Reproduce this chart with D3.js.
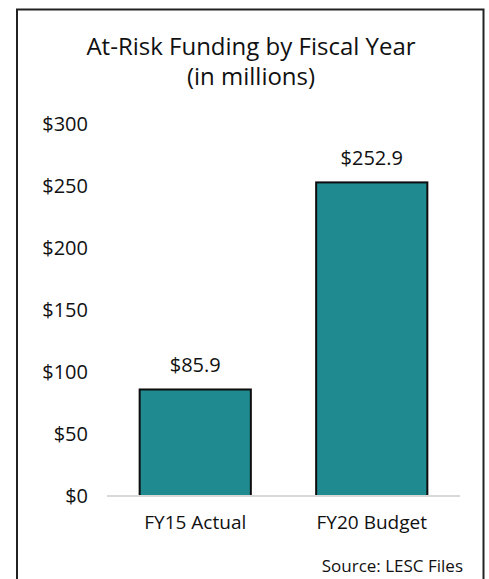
<!DOCTYPE html>
<html>
<head>
<meta charset="utf-8">
<script src="https://cdn.jsdelivr.net/npm/d3@7"></script>
<style>
  body { margin: 0; background: #fff; }
  svg text { font-family: "Open Sans", sans-serif; fill: #111; }
</style>
</head>
<body>
<div id="content"></div>
<script>
// chart data
const categories = ['FY15 Actual', 'FY20 Budget'];
const values = [85.9, 252.9];
const yTicks = [0, 50, 100, 150, 200, 250, 300];
const titleLines = ['At-Risk Funding by Fiscal Year', '(in millions)'];
const source = 'Source: LESC Files';

var app = {};
app.W = 489;
app.H = 579;
var margin = { top: 124, right: 29, bottom: 83, left: 107 };
app.width = app.W - margin.left - margin.right;
app.height = app.H - margin.top - margin.bottom;

app.svg = d3.select('#content').append('svg')
  .attr('width', app.W)
  .attr('height', app.H);

// frame around the chart
app.svg.append('rect')
  .attr('x', 17).attr('y', 9.5)
  .attr('width', 466.5).attr('height', 600)
  .attr('fill', 'none')
  .attr('stroke', '#222')
  .attr('stroke-width', 2);

app.svg.selectAll('.title')
  .data(titleLines)
  .enter().append('text')
  .attr('class', 'title')
  .attr('x', 251)
  .attr('y', (d, i) => 55 + i * 30)
  .attr('text-anchor', 'middle')
  .style('font-size', '24px')
  .style('font-weight', 500)
  .text(d => d);

app.g = app.svg.append('g')
  .attr('transform', `translate(${margin.left},${margin.top})`);

app.yScale = d3.scaleLinear()
  .domain([0, 300])
  .range([app.height, 0]);

app.xScale = d3.scaleBand()
  .domain(categories)
  .range([0, app.width])
  .paddingInner(0.37)
  .paddingOuter(0.185);

// y axis labels (no line)
app.yAxis = d3.axisLeft(app.yScale)
  .tickValues(yTicks)
  .tickSize(0)
  .tickPadding(19)
  .tickFormat(d => '$' + d);

app.g.append('g')
  .call(app.yAxis)
  .call(g => g.select('.domain').remove())
  .selectAll('text')
  .style('font-size', '20px')
  .attr('fill', '#111');

app.g.selectAll('rect.bar')
  .data(values)
  .enter().append('rect')
  .attr('class', 'bar')
  .attr('x', (d, i) => app.xScale(categories[i]))
  .attr('y', d => app.yScale(d))
  .attr('width', app.xScale.bandwidth())
  .attr('height', d => app.height - app.yScale(d))
  .attr('fill', '#1f8a90')
  .attr('stroke', '#0d0d0d')
  .attr('stroke-width', 2);

// baseline
app.g.append('line')
  .attr('x1', 0).attr('x2', app.width)
  .attr('y1', app.yScale(0)).attr('y2', app.yScale(0))
  .attr('stroke', '#d9d9d9')
  .attr('stroke-width', 2);

app.g.selectAll('text.val')
  .data(values)
  .enter().append('text')
  .attr('class', 'val')
  .attr('x', (d, i) => app.xScale(categories[i]) + app.xScale.bandwidth() / 2)
  .attr('y', d => app.yScale(d) - 17)
  .attr('text-anchor', 'middle')
  .style('font-size', '20px')
  .text(d => '$' + d.toFixed(1));

app.xAxis = d3.axisBottom(app.xScale).tickSize(0).tickPadding(20);
app.g.append('g')
  .attr('transform', `translate(0,${app.height})`)
  .call(app.xAxis)
  .call(g => g.select('.domain').remove())
  .selectAll('text')
  .style('font-size', '19px')
  .attr('fill', '#111');

app.svg.append('text')
  .attr('x', 463)
  .attr('y', 572)
  .attr('text-anchor', 'end')
  .style('font-size', '17px')
  .text(source);
</script>
</body>
</html>
